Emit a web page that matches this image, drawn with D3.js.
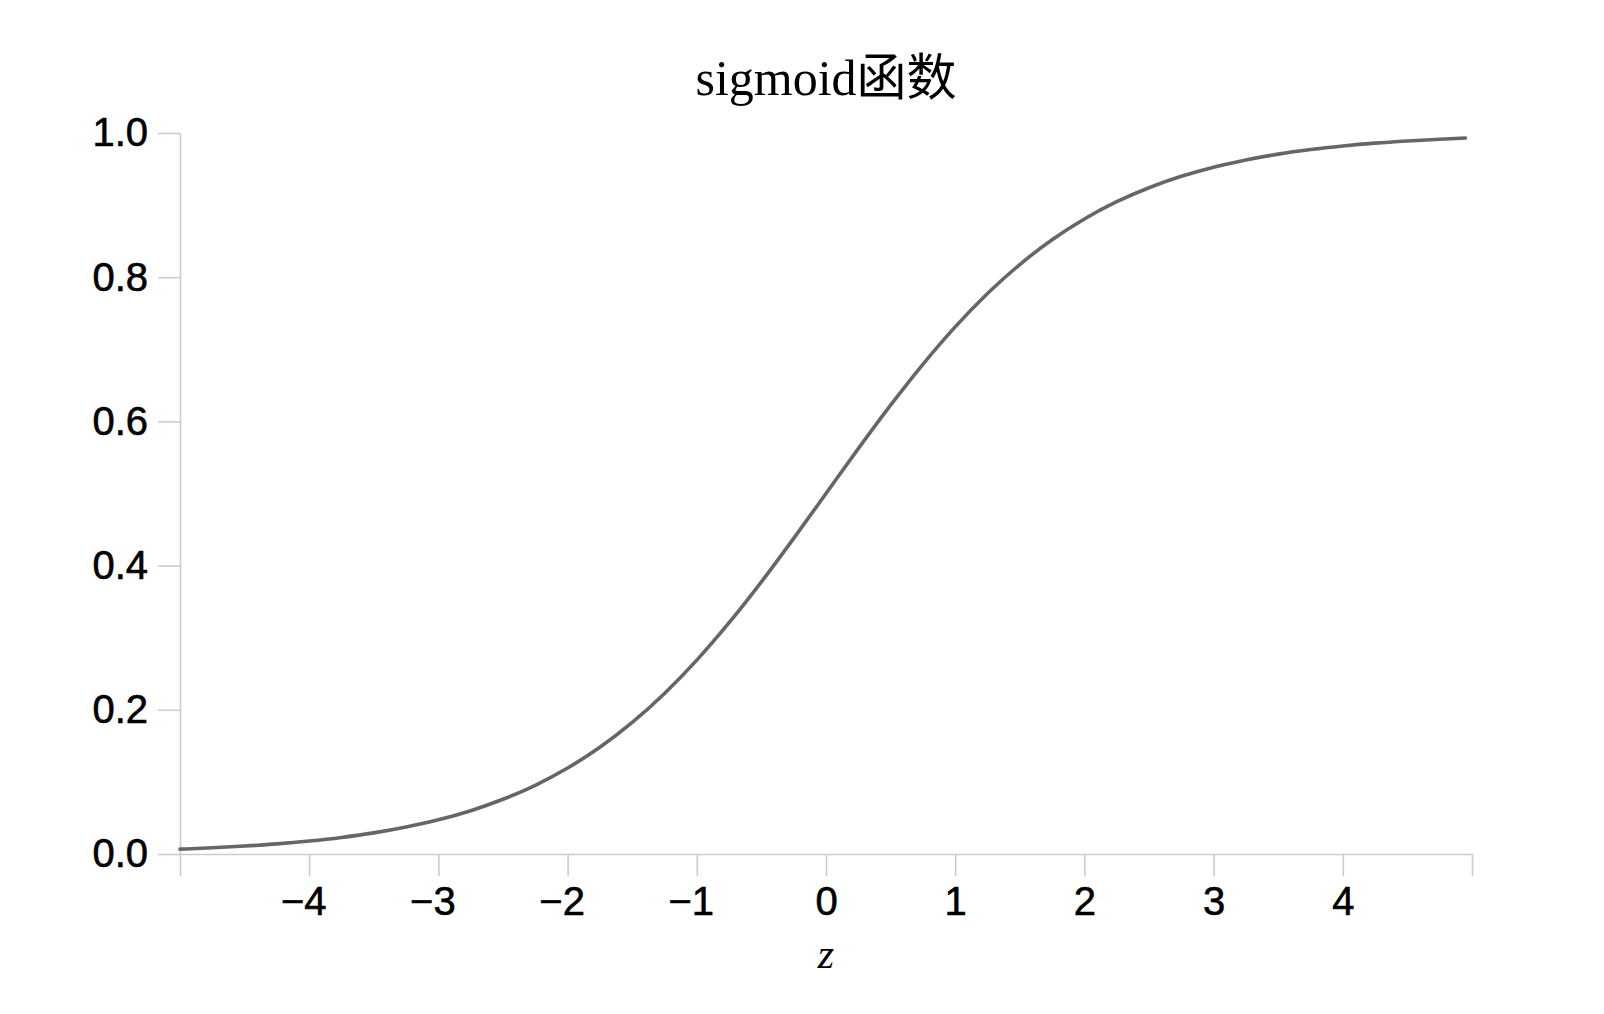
<!DOCTYPE html>
<html>
<head>
<meta charset="utf-8">
<script src="https://cdn.jsdelivr.net/npm/d3@7"></script>
<style>
  html, body { margin: 0; padding: 0; background: #fff; }
  svg { display: block; }
</style>
</head>
<body>
<script>
const titleText = "sigmoid函数";
const xLabel = "z";
const zValues = [-5, -4.75, -4.5, -4.25, -4, -3.75, -3.5, -3.25, -3, -2.75, -2.5, -2.25, -2, -1.75, -1.5, -1.25, -1, -0.75, -0.5, -0.25,
  0, 0.25, 0.5, 0.75, 1, 1.25, 1.5, 1.75, 2, 2.25, 2.5, 2.75, 3, 3.25, 3.5, 3.75, 4, 4.25, 4.5, 4.75, 4.95];
const sigValues = [0.0067, 0.0086, 0.0110, 0.0140, 0.0180, 0.0230, 0.0293, 0.0374, 0.0474, 0.0601, 0.0759, 0.0953, 0.1192, 0.1480, 0.1824, 0.2227, 0.2689, 0.3208, 0.3775, 0.4378,
  0.5, 0.5622, 0.6225, 0.6792, 0.7311, 0.7773, 0.8176, 0.8520, 0.8808, 0.9047, 0.9241, 0.9399, 0.9526, 0.9626, 0.9707, 0.9770, 0.9820, 0.9860, 0.9890, 0.9914, 0.9930];
const xTicks = [-4, -3, -2, -1, 0, 1, 2, 3, 4];
const yTicks = [0.0, 0.2, 0.4, 0.6, 0.8, 1.0];

(function () {
const W = 1604, H = 1014;
const svg = d3.select("body").append("svg").attr("width", W).attr("height", H);
svg.append("rect").attr("width", W).attr("height", H).attr("fill", "#fff");

const mLeft = 180, mRight = 1472, mTop = 133, mBottom = 854;
const x = d3.scaleLinear().domain([-5, 5]).range([mLeft, mRight]);
const y = d3.scaleLinear().domain([0, 1]).range([mBottom, mTop]);

const axisColor = "#cccccc";
const fmtMinus = d => (d < 0 ? "\u2212" + Math.abs(d) : String(d));

const gx = svg.append("g").attr("transform", `translate(0,${mBottom})`)
  .call(d3.axisBottom(x).tickValues(xTicks).tickFormat(fmtMinus).tickSize(22).tickSizeOuter(22).tickPadding(11));
const gy = svg.append("g").attr("transform", `translate(${mLeft},0)`)
  .call(d3.axisLeft(y).tickValues(yTicks).tickFormat(d3.format(".1f")).tickSize(22).tickSizeOuter(0).tickPadding(10));

[gx, gy].forEach(g => {
  g.selectAll("path.domain").attr("stroke", axisColor).attr("stroke-width", 1.6);
  g.selectAll(".tick line").attr("stroke", axisColor).attr("stroke-width", 1.6);
  g.selectAll(".tick text").attr("fill", "#000").attr("stroke", "#000").attr("stroke-width", 0.6)
    .style("font-family", "'Liberation Sans', Arial, Helvetica, sans-serif").style("font-size", "40px");
});
gx.selectAll(".tick text").attr("dx", d => (d < 0 ? -6 : 0));

const pts = zValues.map((z, i) => [z, sigValues[i]]);
svg.append("path").datum(pts)
  .attr("fill", "none").attr("stroke", "#666666").attr("stroke-width", 3.6).attr("stroke-linecap", "round")
  .attr("d", d3.line().x(d => x(d[0])).y(d => y(d[1])).curve(d3.curveMonotoneX));

svg.append("text").attr("x", (mLeft + mRight) / 2).attr("y", 95).attr("text-anchor", "middle")
  .style("font-family", "'Liberation Serif', 'Times New Roman', 'Noto Sans CJK SC', serif").style("font-size", "50px")
  .attr("fill", "#000").text(titleText);

svg.append("text").attr("x", (mLeft + mRight) / 2).attr("y", 968).attr("text-anchor", "middle")
  .style("font-family", "'Liberation Serif', 'Times New Roman', serif").style("font-style", "italic").style("font-size", "42px")
  .attr("fill", "#000").text(xLabel);
})();
</script>
</body>
</html>
